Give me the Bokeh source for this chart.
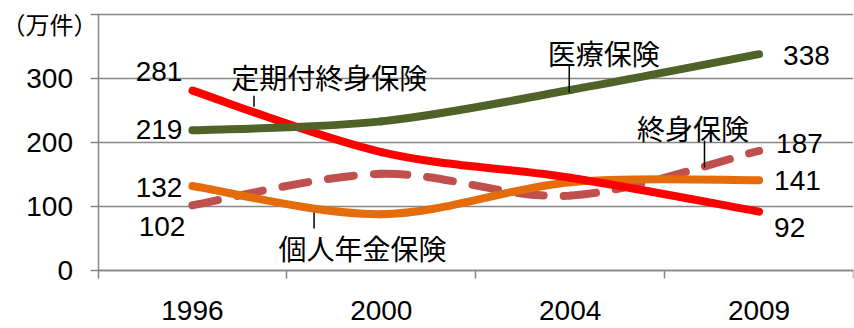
from bokeh.plotting import figure
from bokeh.models import FixedTicker, ColumnDataSource
from bokeh.core.properties import value
from bokeh.embed import file_html
from bokeh.resources import INLINE

# ---- data ----
years = ["1996", "2000", "2004", "2009"]
teiki = [281, 185, 145, 92]        # 定期付終身保険
iryo = [219, 233, 282, 338]        # 医療保険
nenkin = [132, 88, 138, 141]       # 個人年金保険
shushin = [102, 151, 117, 187]     # 終身保険
y_ticks = [0, 100, 200, 300, 400]
unit_text = "（万件）"

series_names = ["定期付終身保険", "医療保険", "個人年金保険", "終身保険"]
series_vals = [teiki, iryo, nenkin, shushin]

# ---- styles / layout ----
colors = ["#FF0000", "#4F6228", "#E46C0A", "#C0504D"]
dashes = ["solid", "solid", "solid", "26 20"]
NUM_FONT = "Liberation Sans"
JP_FONT = "Noto Sans CJK JP"
GRID = "#868686"

# name label positions (data units) and leader lines
name_x = [0.205, 2.178, 0.901, 2.650]
name_y = [301.6, 340.6, 34.4, 223.4]
name_align = ["left", "center", "center", "center"]
lead_x = [0.326, 1.995, 0.644, 2.711]
lead_y0 = [273, 320, 90.6, 203]
lead_y1 = [256, 278, 65.6, 161]
unit_pos = (-0.757, 386)

# data label offsets (screen px) for start and end values
start_off = [(-10, -19), (-10, -1), (-10, 1), (-7, 21)]
end_off = [(15, 16), (24, 1), (15, 0), (17, -7)]

xs = list(range(len(years)))
x_lo, x_hi = xs[0] - 0.5, xs[-1] + 0.5
W, H = 854, 328
left_px, right_px, top_px, base_px = 97.5, 853, 14, 270
px_per_x = (right_px - left_px) / (x_hi - x_lo)
px_per_y = (base_px - top_px) / (y_ticks[-1] - y_ticks[0])

p = figure(width=W, height=H, output_backend="svg", toolbar_location=None,
           x_range=(x_lo - left_px / px_per_x, x_hi),
           y_range=(y_ticks[0] - (H - base_px) / px_per_y, y_ticks[-1] + top_px / px_per_y),
           min_border_left=0, min_border_right=W - right_px, min_border_top=0,
           min_border_bottom=0)
p.outline_line_color = None
p.background_fill_color = "white"
p.border_fill_color = "white"
p.xgrid.grid_line_color = None
p.ygrid.grid_line_color = None

# horizontal gridlines limited to the category span
p.segment(x0=[x_lo] * len(y_ticks), x1=[x_hi] * len(y_ticks), y0=y_ticks, y1=y_ticks,
          line_color=GRID, line_width=1.5)

# y axis drawn at the left category boundary
p.yaxis.fixed_location = x_lo
p.yaxis.bounds = (y_ticks[0], y_ticks[-1])
p.yaxis.ticker = FixedTicker(ticks=y_ticks)
p.yaxis.major_label_overrides = {400: ""}
p.yaxis.axis_line_color = GRID
p.yaxis.axis_line_width = 1.5
p.yaxis.major_tick_line_color = GRID
p.yaxis.major_tick_line_width = 1.5
p.yaxis.major_tick_out = 8
p.yaxis.major_tick_in = 0
p.yaxis.minor_tick_line_color = None
p.yaxis.major_label_standoff = 17
p.yaxis.major_label_text_font = NUM_FONT
p.yaxis.major_label_text_font_size = "28px"
p.yaxis.major_label_text_color = "black"

# x axis drawn at value 0
p.xaxis.fixed_location = y_ticks[0]
p.xaxis.bounds = (x_lo, x_hi)
p.xaxis.ticker = FixedTicker(ticks=xs, minor_ticks=[x - 0.5 for x in xs] + [x_hi])
p.xaxis.major_label_overrides = {i: y for i, y in enumerate(years)}
p.xaxis.axis_line_color = GRID
p.xaxis.axis_line_width = 1.5
p.xaxis.major_tick_line_color = None
p.xaxis.major_tick_out = 0
p.xaxis.major_tick_in = 0
p.xaxis.minor_tick_line_color = GRID
p.xaxis.minor_tick_line_width = 1.5
p.xaxis.minor_tick_out = 8
p.xaxis.minor_tick_in = 0
p.xaxis.major_label_standoff = 22
p.xaxis.major_label_text_font = NUM_FONT
p.xaxis.major_label_text_font_size = "28px"
p.xaxis.major_label_text_color = "black"


def smooth(xv, yv):
    n = len(xv)
    px = [xv[0]] + list(xv) + [xv[-1]]
    py = [yv[0]] + list(yv) + [yv[-1]]
    d = dict(x0=[], y0=[], x1=[], y1=[], cx0=[], cy0=[], cx1=[], cy1=[])
    for i in range(n - 1):
        j = i + 1
        d["x0"].append(px[j]); d["y0"].append(py[j])
        d["x1"].append(px[j + 1]); d["y1"].append(py[j + 1])
        d["cx0"].append(px[j] + (px[j + 1] - px[j - 1]) / 6)
        d["cy0"].append(py[j] + (py[j + 1] - py[j - 1]) / 6)
        d["cx1"].append(px[j + 1] - (px[j + 2] - px[j]) / 6)
        d["cy1"].append(py[j + 1] - (py[j + 2] - py[j]) / 6)
    return d

# draw order: dashed first, then others
order = [3, 2, 0, 1]
for k in order:
    src = ColumnDataSource(smooth(xs, series_vals[k]))
    p.bezier(x0="x0", y0="y0", x1="x1", y1="y1", cx0="cx0", cy0="cy0", cx1="cx1", cy1="cy1",
             source=src, line_color=colors[k], line_width=8, line_cap="round",
             line_dash=dashes[k])

# value labels
for k in range(4):
    vals = series_vals[k]
    p.text(x=[xs[0]], y=[vals[0]], text=[str(vals[0])], x_offset=[start_off[k][0]],
           y_offset=[start_off[k][1]], text_align="right", text_baseline="middle",
           text_font=value(NUM_FONT), text_font_size="28px", text_color="black")
    p.text(x=[xs[-1]], y=[vals[-1]], text=[str(vals[-1])], x_offset=[end_off[k][0]],
           y_offset=[end_off[k][1]], text_align="left", text_baseline="middle",
           text_font=value(NUM_FONT), text_font_size="28px", text_color="black")

# series names with leaders
p.segment(x0=lead_x, y0=lead_y0, x1=lead_x, y1=lead_y1, line_color="black", line_width=1.5)
for k in range(4):
    p.text(x=[name_x[k]], y=[name_y[k]], text=[series_names[k]], text_align=name_align[k],
           text_baseline="middle", text_font=value(JP_FONT), text_font_size="28px",
           text_color="black")

# unit label at top-left
p.text(x=[unit_pos[0]], y=[unit_pos[1]], text=[unit_text], text_align="center",
       text_baseline="middle", text_font=value(JP_FONT), text_font_size="24px",
       text_color="black")

open("out.html", "w").write(file_html(p, INLINE))
